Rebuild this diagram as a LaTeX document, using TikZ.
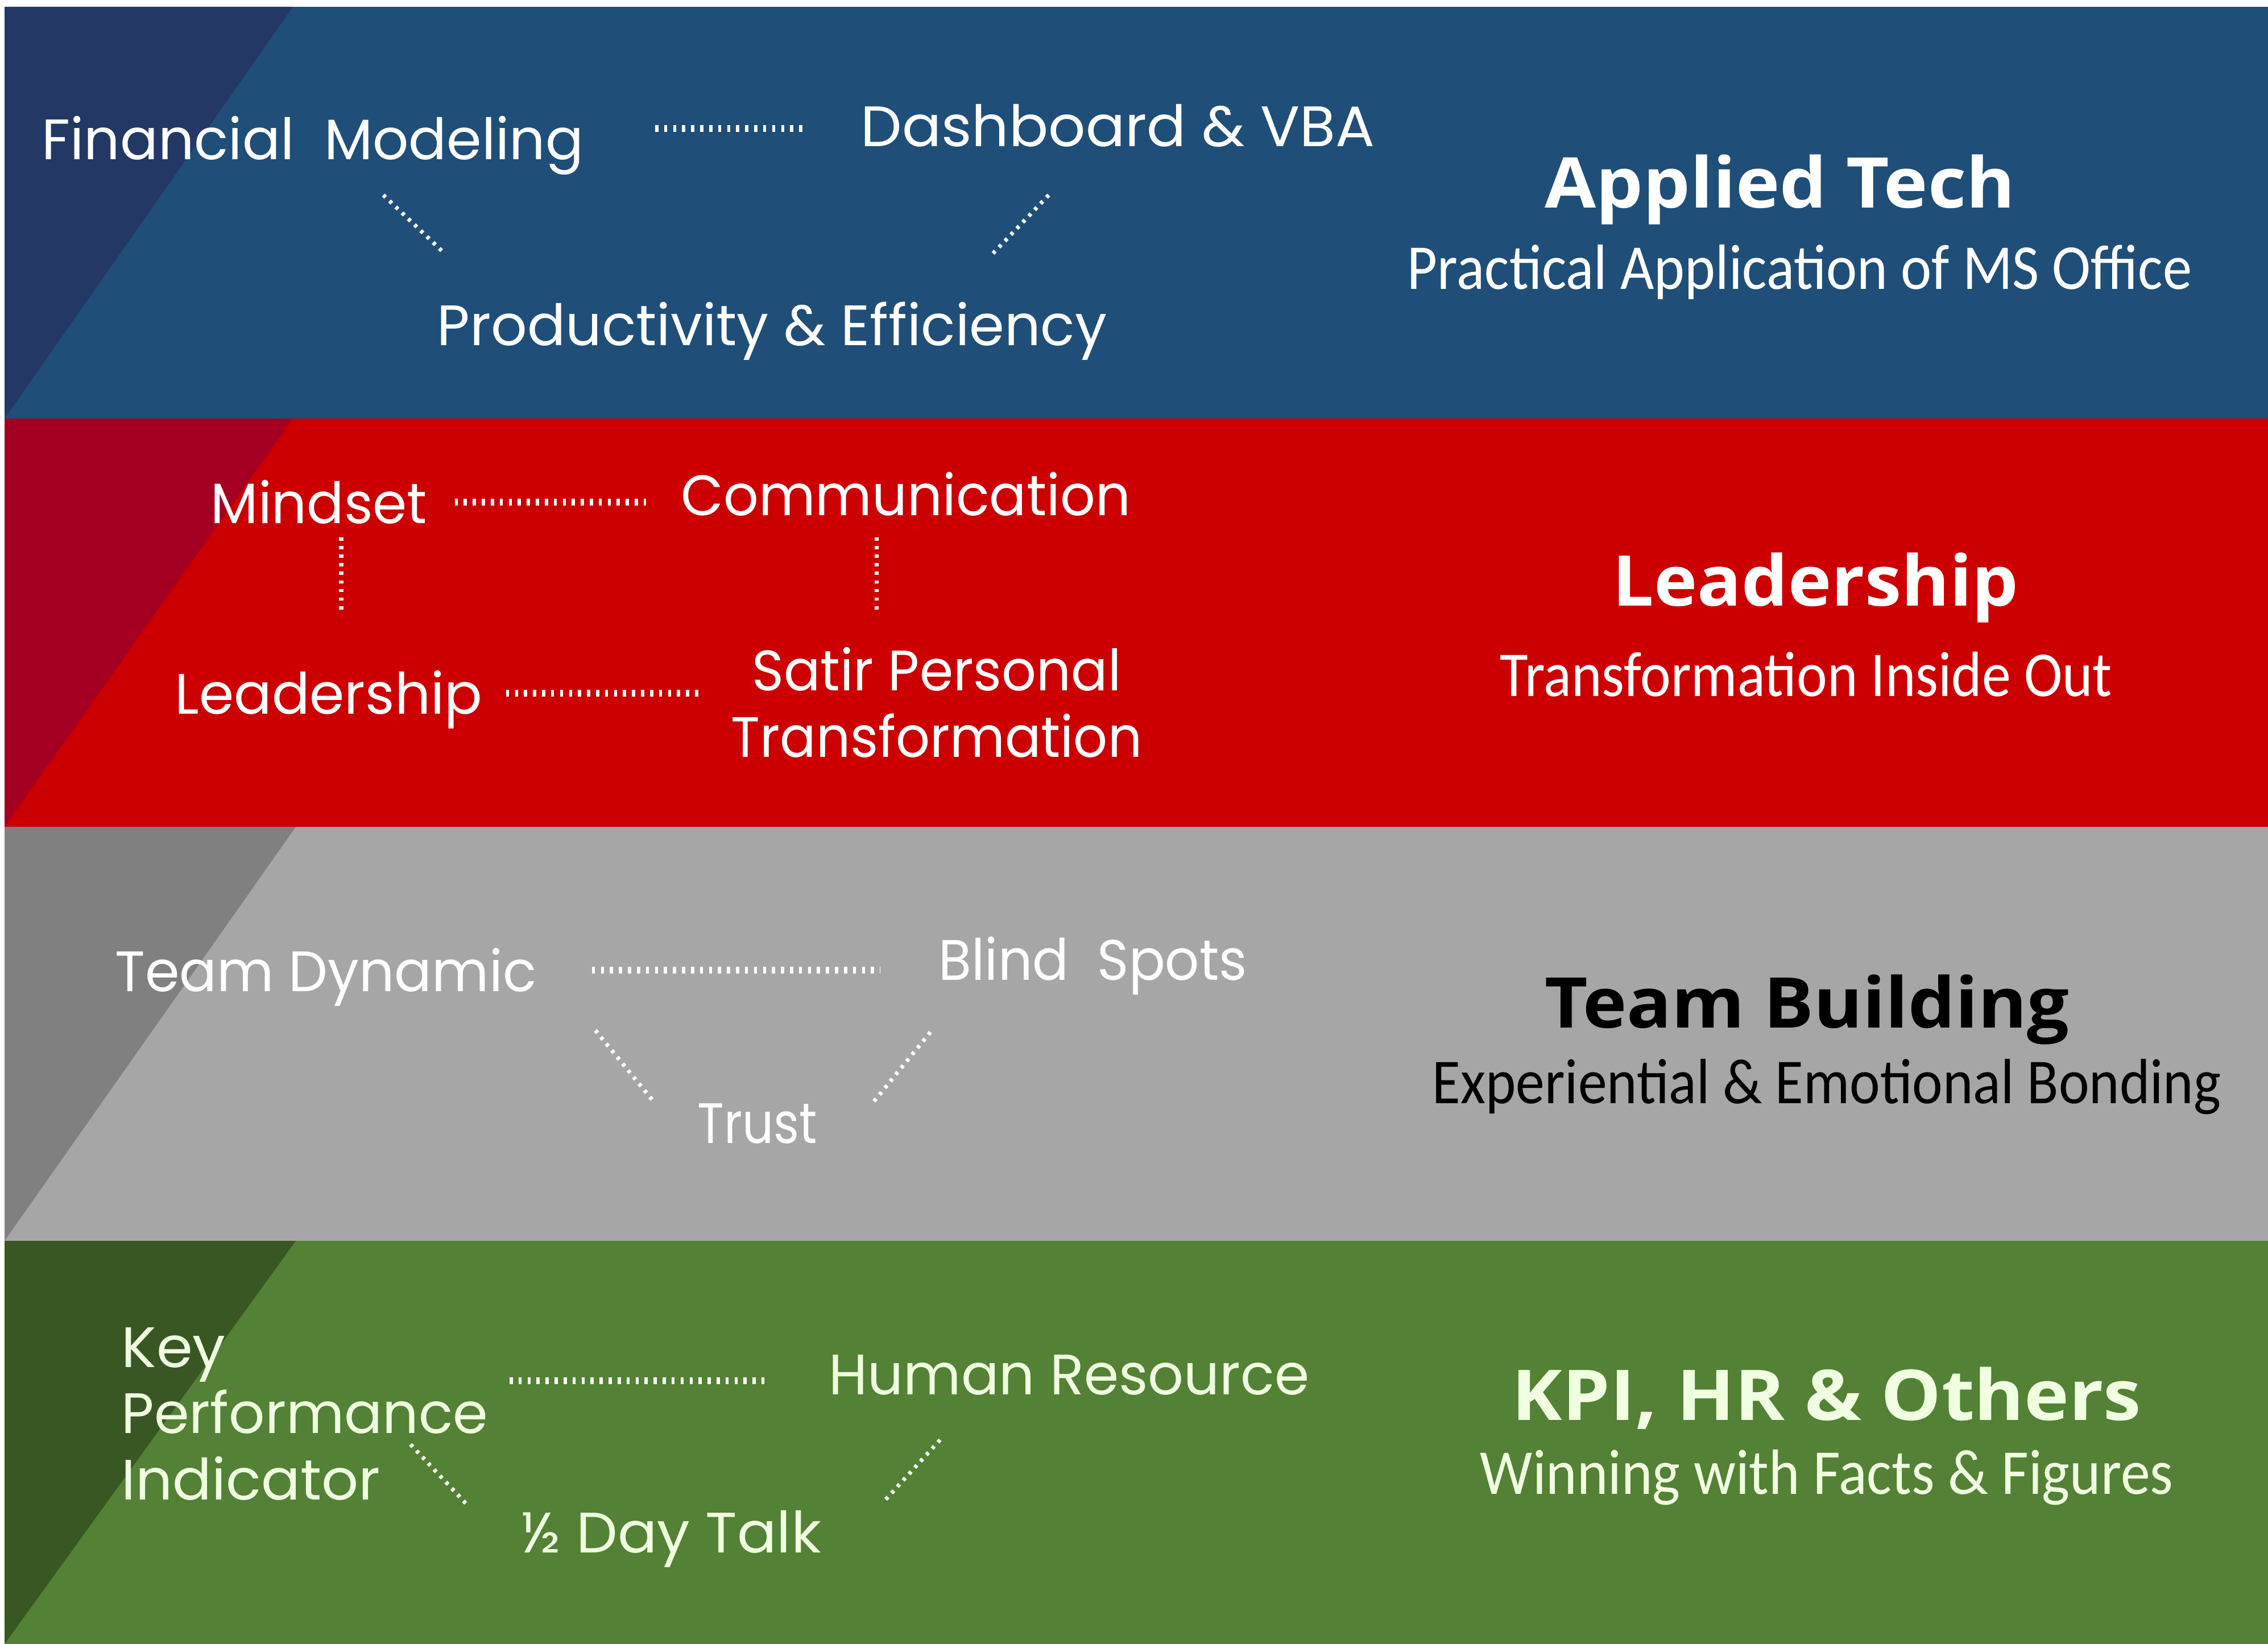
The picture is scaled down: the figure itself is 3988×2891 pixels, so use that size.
\documentclass[tikz,border=0pt]{standalone}
\usepackage{fontspec}
\usepackage{graphicx}
\usetikzlibrary{calc}
\setmainfont{Poppins}
\newfontfamily\titlefont{Open Sans}
\newfontfamily\subfont{Carlito}

\definecolor{TechColor}{rgb}{0.122,0.306,0.475}
\definecolor{TechDark}{rgb}{0.137,0.220,0.396}
\definecolor{LeadColor}{rgb}{0.800,0.000,0.000}
\definecolor{LeadDark}{rgb}{0.647,0.000,0.129}
\definecolor{TeamColor}{rgb}{0.651,0.651,0.651}
\definecolor{TeamDark}{rgb}{0.502,0.502,0.502}
\definecolor{KpiColor}{rgb}{0.325,0.506,0.208}
\definecolor{KpiDark}{rgb}{0.220,0.341,0.137}
\definecolor{KpiText}{rgb}{0.941,1.000,0.878}

% squeeze a text to a given width, keeping its height
\newsavebox{\fitbox}
\newcommand{\fitto}[2]{\sbox{\fitbox}{#2}\pgfmathsetmacro{\fitratio}{#1/\the\wd\fitbox}\scalebox{\fitratio}[1]{\usebox{\fitbox}}}

\tikzstyle{topic}=[font=\fontsize{28.5}{33}\selectfont,
                   text=white,
                   inner sep=0pt,
                   anchor=base west,
                  ]
\tikzstyle{band-title}=[topic,
                        font=\titlefont\bfseries\fontsize{35}{40}\selectfont]
\tikzstyle{band-sub}=[topic,
                      font=\subfont\fontsize{32}{36}\selectfont]
\tikzstyle{hlink}=[draw=white, line width=3.5pt, dash pattern=on 1.6pt off 2.9pt]
\tikzstyle{dlink}=[draw=white, line width=2pt, dash pattern=on 1.6pt off 2.7pt]

\begin{document}
\begin{tikzpicture}[x=0.01cm, y=-0.01cm]
\useasboundingbox (0,0) rectangle (3988,2891);
\fill[white] (0,0) rectangle (3988,2891);

% bands with their dark corner
\fill[TechColor] (8,12)   rectangle (3988,736);
\fill[TechDark]  (8,12)   -- (515,12)   -- (8,736)  -- cycle;
\fill[LeadColor] (8,736)  rectangle (3988,1454);
\fill[LeadDark]  (8,736)  -- (515,736)  -- (8,1454) -- cycle;
\fill[TeamColor] (8,1454) rectangle (3988,2182);
\fill[TeamDark]  (8,1454) -- (520,1454) -- (8,2182) -- cycle;
\fill[KpiColor]  (8,2182) rectangle (3988,2891);
\fill[KpiDark]   (8,2182) -- (520,2182) -- (8,2891) -- cycle;

% applied tech
\node at (73,   280) (tech_model)     [topic]      {\fitto{9.52cm}{Financial\ \ Modeling}};
\node at (1513, 258) (tech_dashboard) [topic]      {\fitto{9.03cm}{Dashboard \& VBA}};
\node at (768,  607) (tech_product)   [topic]      {\fitto{11.77cm}{Productivity \& Efficiency}};
\node at (2716, 365) (tech_title)     [band-title] {\fitto{8.26cm}{Applied Tech}};
\node at (2474, 508) (tech_sub)       [band-sub]   {\fitto{13.79cm}{Practical Application of MS Office}};

% leadership
\node at (370,  920) (lead_mindset)   [topic]      {\fitto{3.80cm}{Mindset}};
\node at (1197, 906) (lead_comm)      [topic]      {\fitto{7.90cm}{Communication}};
\node at (307, 1255) (lead_leader)    [topic]      {\fitto{5.40cm}{Leadership}};
\node at (1647,1331) (lead_satir)     [topic, anchor=base, align=center]
      {\fitto{6.49cm}{Satir Personal}\\\fitto{7.22cm}{Transformation}};
\node at (2835,1065) (lead_title)     [band-title] {\fitto{7.13cm}{Leadership}};
\node at (2637,1224) (lead_sub)       [band-sub]   {\fitto{10.76cm}{Transformation Inside Out}};

% team building
\node at (202, 1743) (team_dynamic)   [topic]      {\fitto{7.40cm}{Team Dynamic}};
\node at (1650,1723) (team_blind)     [topic]      {\fitto{5.42cm}{Blind\ \ Spots}};
\node at (1226,2010) (team_trust)     [topic]      {\fitto{2.10cm}{Trust}};
\node at (2716,1807) (team_title)     [band-title, text=black] {\fitto{9.21cm}{Team Building}};
\node at (2518,1940) (team_sub)       [band-sub, text=black]   {\fitto{13.86cm}{Experiential \& Emotional Bonding}};

% kpi, hr and others
\node at (213, 2637) (kpi_indicator)  [topic, text={KpiText}, align=left]
      {\fitto{1.83cm}{Key}\\\fitto{6.44cm}{Performance}\\\fitto{4.55cm}{Indicator}};
\node at (1457,2452) (kpi_human)      [topic, text={KpiText}] {\fitto{8.44cm}{Human Resource}};
\node at (916, 2730) (kpi_talk)       [topic, text={KpiText}] {\fitto{5.27cm}{½ Day Talk}};
\node at (2658,2497) (kpi_title)      [band-title, text={KpiText}] {\fitto{11.06cm}{KPI, HR \& Others}};
\node at (2602,2627) (kpi_sub)        [band-sub, text={KpiText}]   {\fitto{12.18cm}{Winning with Facts \& Figures}};

\draw[hlink] ($(tech_model.base east)+(125,-54)$)    -- ($(tech_dashboard.base west)+(-94,-32)$);
\draw[dlink] ($(tech_model.base west)+(601,63)$)     -- ($(tech_product.base west)+(13,-162)$);
\draw[dlink] ($(tech_dashboard.base west)+(331,85)$) -- ($(tech_product.base west)+(974,-157)$);

\draw[hlink] ($(lead_mindset.base east)+(48,-37)$)   -- ($(lead_comm.base west)+(-61,-23)$);
\draw[dlink] ($(lead_mindset.base west)+(230,25)$)   -- ($(lead_leader.base west)+(293,-177)$);
\draw[dlink] ($(lead_comm.base west)+(344,39)$)      -- ($(lead_satir.base)+(-106,-253)$);
\draw[hlink] ($(lead_leader.base east)+(41,-36)$)    -- ($(lead_satir.base)+(-410,-112)$);

\draw[hlink] ($(team_dynamic.base east)+(97,-37)$)   -- ($(team_blind.base west)+(-102,-17)$);
\draw[dlink] ($(team_dynamic.base west)+(845,69)$)   -- ($(team_trust.base west)+(-76,-72)$);
\draw[dlink] ($(team_blind.base west)+(-14,92)$)     -- ($(team_trust.base east)+(99,-73)$);

\draw[hlink] ($(kpi_indicator.base west)+(683,-209)$) -- ($(kpi_human.base west)+(-113,-24)$);
\draw[dlink] ($(kpi_indicator.base west)+(509,-97)$)  -- ($(kpi_talk.base west)+(-91,-80)$);
\draw[dlink] ($(kpi_human.base west)+(196,80)$)       -- ($(kpi_talk.base east)+(107,-87)$);
\end{tikzpicture}
\end{document}
